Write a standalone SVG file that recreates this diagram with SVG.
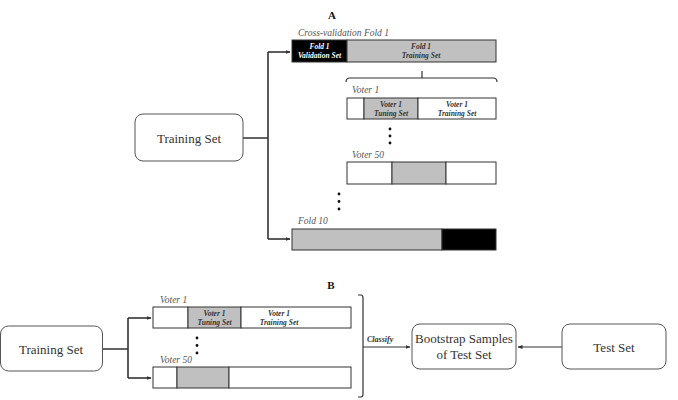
<svg xmlns="http://www.w3.org/2000/svg" width="678" height="400" viewBox="0 0 678 400">
<style>
.bg{fill:#fff}
.box{fill:#fff;stroke:#555;stroke-width:1}
.bar{stroke:#333;stroke-width:1}
.w{fill:#fff}
.g{fill:#c0c0c0}
.k{fill:#000}
.t{font-family:"Liberation Serif","DejaVu Serif",serif;fill:#333}
.big{font-size:13px}
.lab{font-size:9.5px;font-style:italic;fill:#555}
.in{font-size:7.5px;font-style:italic;font-weight:bold}
.hd{font-size:11px;font-weight:bold;fill:#111}
.ln{fill:none;stroke:#333;stroke-width:1.6}
.thin{fill:none;stroke:#333;stroke-width:1.2}
.dot{fill:#111}
</style>
<defs>
<marker id="ah" viewBox="0 0 10 10" refX="9" refY="5" markerWidth="5" markerHeight="5" orient="auto" markerUnits="userSpaceOnUse">
<path d="M0,1 L10,5 L0,9 z" fill="#333"/>
</marker>
</defs>
<rect class="bg" width="678" height="400"/>

<text class="t hd" x="332" y="19" text-anchor="middle">A</text>
<text class="t hd" x="331" y="289" text-anchor="middle">B</text>

<g id="connectors">
<path class="ln" d="M243,138 H268 M268,52 V239"/>
<path class="ln" d="M268,52 H290" marker-end="url(#ah)"/>
<path class="ln" d="M268,239 H290" marker-end="url(#ah)"/>
<path class="thin" d="M346,82 Q346,78 350,78 H493 Q497,78 497,82 M422,78 V71"/>
<path class="ln" d="M102,349 H128 M128,318 V378"/>
<path class="ln" d="M128,318 H151" marker-end="url(#ah)"/>
<path class="ln" d="M128,378 H151" marker-end="url(#ah)"/>
<path class="thin" d="M358,295 H361 Q363,295 363,298 V394 Q363,397 361,397 H358"/>
<path class="thin" d="M363,347 H410" marker-end="url(#ah)"/>
<path class="thin" d="M562,347 H518" marker-end="url(#ah)"/>
</g>

<g id="trainingA">
<rect class="box" x="135" y="114" width="108" height="47" rx="8"/>
<text class="t big" x="189" y="143" text-anchor="middle">Training Set</text>
</g>

<g id="fold1">
<text class="t lab" x="298" y="36">Cross-validation Fold 1</text>
<rect class="bar k" x="292" y="40" width="55" height="22"/>
<rect class="bar g" x="347" y="40" width="149" height="22"/>
<text class="t in" x="319.5" y="49" text-anchor="middle" style="fill:#fff">Fold 1</text>
<text class="t in" x="319.5" y="58" text-anchor="middle" style="fill:#fff">Validation Set</text>
<text class="t in" x="421" y="49" text-anchor="middle">Fold 1</text>
<text class="t in" x="421" y="58" text-anchor="middle">Training Set</text>
</g>

<g id="voter1A">
<text class="t lab" x="352" y="93">Voter 1</text>
<rect class="bar w" x="347" y="98" width="17" height="21"/>
<rect class="bar g" x="364" y="98" width="54" height="21"/>
<rect class="bar w" x="418" y="98" width="78" height="21"/>
<text class="t in" x="391" y="107" text-anchor="middle">Voter 1</text>
<text class="t in" x="391" y="115.5" text-anchor="middle">Tuning Set</text>
<text class="t in" x="457" y="107" text-anchor="middle">Voter 1</text>
<text class="t in" x="457" y="115.5" text-anchor="middle">Training Set</text>
</g>

<g id="dotsA1">
<circle class="dot" cx="390" cy="129" r="1.4"/>
<circle class="dot" cx="390" cy="136" r="1.4"/>
<circle class="dot" cx="390" cy="143" r="1.4"/>
</g>

<g id="voter50A">
<text class="t lab" x="352" y="158">Voter 50</text>
<rect class="bar w" x="347" y="162" width="45" height="22"/>
<rect class="bar g" x="392" y="162" width="54" height="22"/>
<rect class="bar w" x="446" y="162" width="50" height="22"/>
</g>

<g id="dotsA2">
<circle class="dot" cx="339" cy="194" r="1.4"/>
<circle class="dot" cx="339" cy="201.5" r="1.4"/>
<circle class="dot" cx="339" cy="209" r="1.4"/>
</g>

<g id="fold10">
<text class="t lab" x="298" y="224">Fold 10</text>
<rect class="bar g" x="292" y="229" width="150" height="21"/>
<rect class="bar k" x="442" y="229" width="54" height="21"/>
</g>

<g id="trainingB">
<rect class="box" x="0.5" y="326" width="102" height="45" rx="8"/>
<text class="t big" x="51" y="354" text-anchor="middle">Training Set</text>
</g>

<g id="voter1B">
<text class="t lab" x="160" y="303">Voter 1</text>
<rect class="bar w" x="153" y="307" width="35" height="21"/>
<rect class="bar g" x="188" y="307" width="53" height="21"/>
<rect class="bar w" x="241" y="307" width="110" height="21"/>
<text class="t in" x="214.5" y="316" text-anchor="middle">Voter 1</text>
<text class="t in" x="214.5" y="324.5" text-anchor="middle">Tuning Set</text>
<text class="t in" x="279" y="316" text-anchor="middle">Voter 1</text>
<text class="t in" x="279" y="324.5" text-anchor="middle">Training Set</text>
</g>

<g id="dotsB">
<circle class="dot" cx="197" cy="338" r="1.4"/>
<circle class="dot" cx="197" cy="345.5" r="1.4"/>
<circle class="dot" cx="197" cy="353" r="1.4"/>
</g>

<g id="voter50B">
<text class="t lab" x="160" y="363">Voter 50</text>
<rect class="bar w" x="153" y="367" width="24" height="21"/>
<rect class="bar g" x="177" y="367" width="52" height="21"/>
<rect class="bar w" x="229" y="367" width="122" height="21"/>
</g>

<text class="t in" x="367" y="342" style="font-size:8px;fill:#333">Classify</text>

<g id="bootstrap">
<rect class="box" x="412" y="324" width="104" height="45" rx="8"/>
<text class="t big" x="464" y="343" text-anchor="middle">Bootstrap Samples</text>
<text class="t big" x="464" y="359" text-anchor="middle">of Test Set</text>
</g>

<g id="testset">
<rect class="box" x="562" y="324" width="104" height="45" rx="8"/>
<text class="t big" x="614" y="352" text-anchor="middle">Test Set</text>
</g>
</svg>
